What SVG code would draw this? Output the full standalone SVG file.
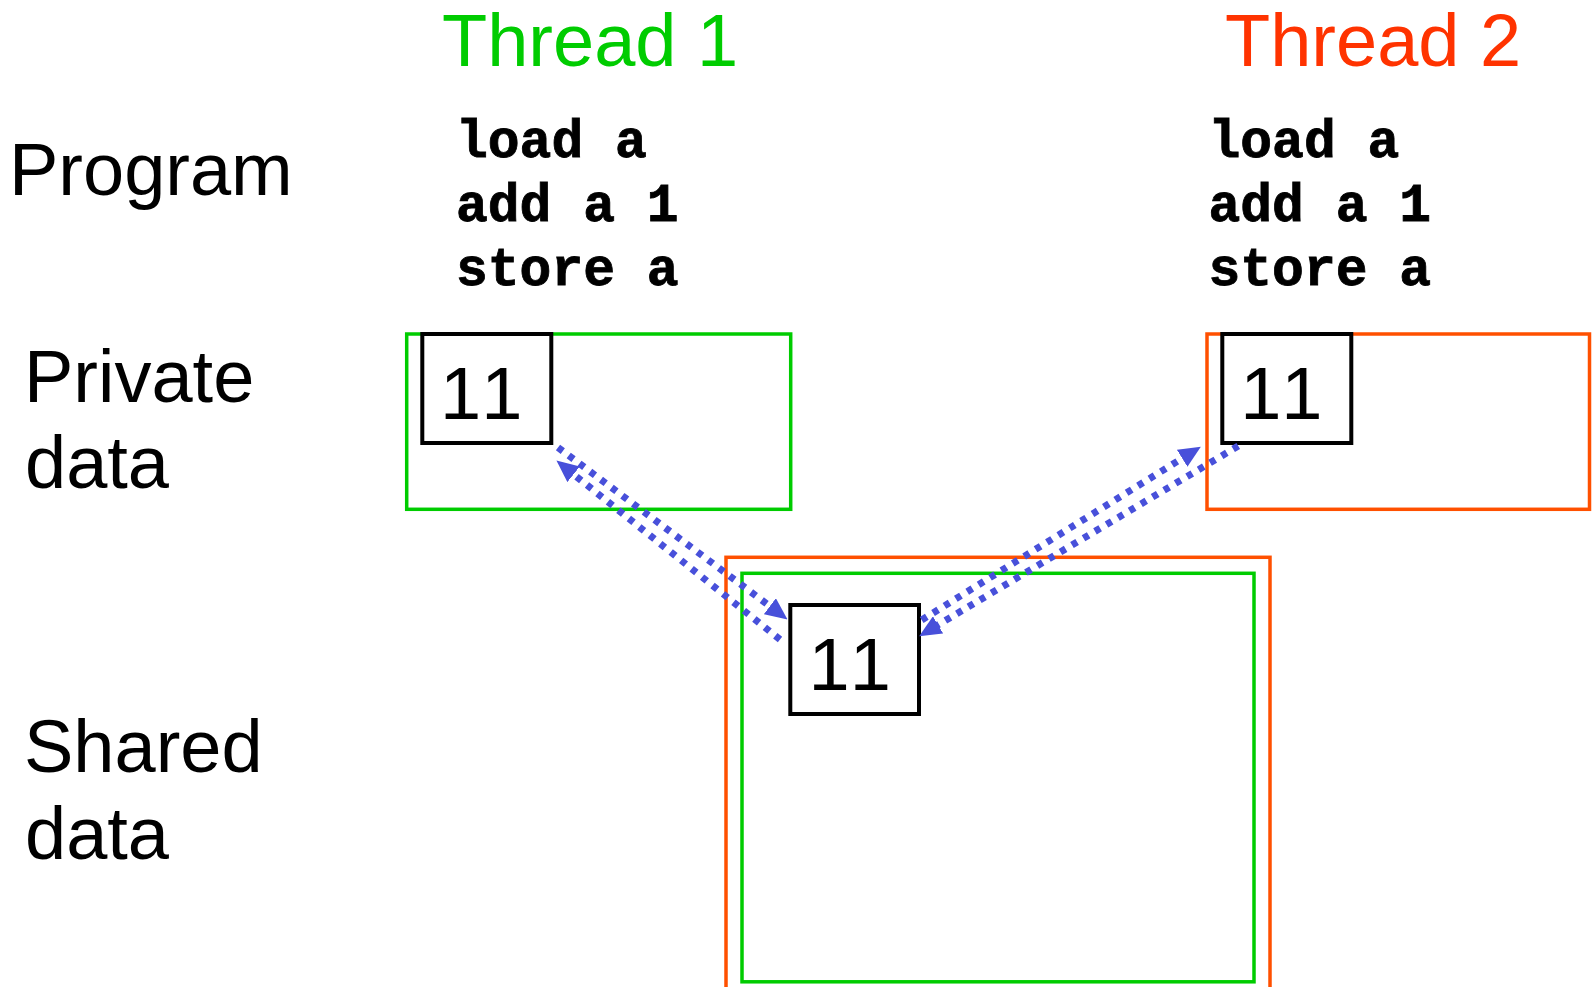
<svg xmlns="http://www.w3.org/2000/svg" width="1595" height="987" viewBox="0 0 1595 987">
  <style>
    .label { font-family: "Liberation Sans", Arial, sans-serif; font-size: 74px; fill: #000; }
    .title { font-family: "Liberation Sans", Arial, sans-serif; font-size: 74px; }
    .code { font-family: "Liberation Mono", "Courier New", monospace; font-weight: bold; font-size: 53px; fill: #000; stroke: #000; stroke-width: 0.8; }
    .val { font-family: "Liberation Sans", Arial, sans-serif; font-size: 74px; fill: #000; font-kerning: none; }
    .cell { fill: #fff; stroke: #000; stroke-width: 4; }
    .green { fill: none; stroke: #00CC00; stroke-width: 3.5; }
    .orange { fill: none; stroke: #FF5000; stroke-width: 3.5; }
    .link { fill: none; stroke: #4850DA; stroke-width: 7; stroke-dasharray: 6 7.4; marker-end: url(#head); }
  </style>
  <defs>
    <marker id="head" markerUnits="userSpaceOnUse" markerWidth="22" markerHeight="20" refX="9" refY="10" orient="auto">
      <path d="M0,0 L22,10 L0,20 Z" fill="#4850DA"/>
    </marker>
  </defs>
  <rect width="1595" height="987" fill="#fff"/>

  <!-- row labels -->
  <g id="row-labels">
    <text class="label" x="9" y="195">Program</text>
    <text class="label" x="24" y="401.7">Private</text>
    <text class="label" x="25" y="488.3">data</text>
    <text class="label" x="24" y="771.7">Shared</text>
    <text class="label" x="25" y="859.3">data</text>
  </g>

  <!-- thread 1 -->
  <g id="thread1">
    <text class="title" x="442" y="65.7" fill="#00CC00">Thread 1</text>
    <text class="code" x="456" y="157">load a</text>
    <text class="code" x="456" y="221">add a 1</text>
    <text class="code" x="456" y="285">store a</text>
  </g>
  <g id="private1">
    <rect class="green" x="406.7" y="334" width="384" height="175.3"/>
    <rect class="cell" x="422.3" y="334" width="129" height="109"/>
    <text class="val" x="440" y="419">11</text>
  </g>

  <!-- thread 2 -->
  <g id="thread2">
    <text class="title" x="1225" y="65.7" fill="#FF3300">Thread 2</text>
    <text class="code" x="1208.5" y="157">load a</text>
    <text class="code" x="1208.5" y="221">add a 1</text>
    <text class="code" x="1208.5" y="285">store a</text>
  </g>
  <g id="private2">
    <rect class="orange" x="1207" y="334" width="382.5" height="175.3"/>
    <rect class="cell" x="1222.3" y="334" width="129" height="109"/>
    <text class="val" x="1240.2" y="419">11</text>
  </g>

  <!-- shared memory -->
  <g id="shared">
    <rect class="orange" x="726" y="557.3" width="544" height="450"/>
    <rect class="green" x="742" y="573.3" width="512" height="408.5"/>
    <rect class="cell" x="790.3" y="605" width="128.7" height="109"/>
    <text class="val" x="808.6" y="690">11</text>
  </g>

  <!-- load / store transfers -->
  <g id="connectors">
    <path class="link" d="M558,447.5 L777.1,611.6"/>
    <path class="link" d="M780,639.5 L566.6,468.7"/>
    <path class="link" d="M1238.3,446 L930.3,629.5"/>
    <path class="link" d="M921.7,620 L1189.8,453.6"/>
  </g>
</svg>
